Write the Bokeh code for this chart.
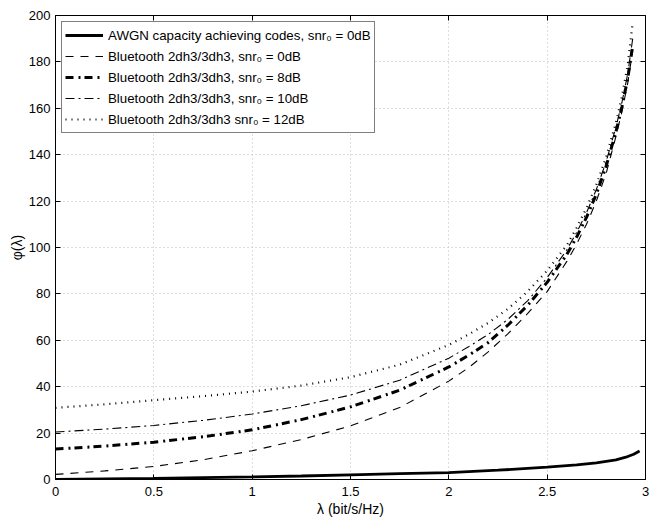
from bokeh.plotting import figure
from bokeh.models import LinearAxis, FixedTicker, Range1d, Legend, LegendItem
from bokeh.embed import file_html
from bokeh.resources import INLINE

# ---- data ----
x_awgn = [0, 0.25, 0.5, 0.75, 1.0, 1.25, 1.5, 1.75, 2.0, 2.25, 2.5, 2.65, 2.75, 2.85, 2.9, 2.94, 2.97]
y_awgn = [0.0, 0.25, 0.5, 0.8, 1.1, 1.5, 2.0, 2.5, 3.0, 4.0, 5.3, 6.3, 7.2, 8.5, 9.6, 10.9, 12.3]

x_bt = [0, 0.25, 0.5, 0.75, 1.0, 1.25, 1.5, 1.75, 2.0, 2.1, 2.2, 2.3, 2.4, 2.5, 2.6, 2.65,
        2.7, 2.75, 2.8, 2.85, 2.88, 2.91, 2.935]
y_bt_0db = [2.2, 3.7, 5.6, 8.5, 12.4, 17.2, 23.1, 31.0, 42.4, 48.2, 55.0, 62.8, 71.5, 81.0,
            94.0, 101.5, 110.0, 120.0, 132.0, 148.0, 158.5, 171.0, 185.0]
y_bt_8db = [13.1, 14.4, 16.1, 18.4, 21.4, 25.8, 31.3, 38.5, 48.5, 53.5, 59.0, 66.5, 75.0, 85.0,
            97.0, 104.5, 113.0, 123.0, 135.0, 150.0, 160.5, 173.0, 187.0]
y_bt_10db = [20.5, 21.7, 23.3, 25.5, 28.2, 31.8, 36.4, 42.8, 52.3, 57.2, 62.5, 69.0, 77.0, 87.0,
             99.0, 106.5, 115.0, 125.0, 137.0, 152.0, 162.5, 175.0, 190.0]
y_bt_12db = [30.9, 32.4, 34.2, 35.9, 37.9, 40.5, 44.1, 49.5, 58.0, 62.5, 67.5, 73.5, 81.0, 90.0,
             101.0, 108.5, 117.0, 127.0, 139.0, 154.0, 165.0, 179.0, 197.0]

labels = [
    "AWGN capacity achieving codes, snr\u2080 = 0dB",
    "Bluetooth 2dh3/3dh3, snr\u2080 = 0dB",
    "Bluetooth 2dh3/3dh3, snr\u2080 = 8dB",
    "Bluetooth 2dh3/3dh3, snr\u2080 = 10dB",
    "Bluetooth 2dh3/3dh3 snr\u2080 = 12dB",
]

x_ticks = [0, 0.5, 1, 1.5, 2, 2.5, 3]
x_tick_labels = ["0", "0.5", "1", "1.5", "2", "2.5", "3"]
y_ticks = [0, 20, 40, 60, 80, 100, 120, 140, 160, 180, 200]

FONT = "Liberation Sans"

p = figure(width=650, height=520, output_backend="svg", toolbar_location=None,
           x_range=Range1d(0, 3), y_range=Range1d(0, 200),
           min_border_left=55, min_border_top=15, min_border_right=5, min_border_bottom=41)
p.background_fill_color = "white"
p.outline_line_color = "black"
p.outline_line_width = 1

r_awgn = p.line(x_awgn, y_awgn, line_color="black", line_width=2.8)
r0 = p.line(x_bt, y_bt_0db, line_color="black", line_width=1.1, line_dash="8 7")
r8 = p.line(x_bt, y_bt_8db, line_color="black", line_width=3, line_dash="8 5 2 4")
r10 = p.line(x_bt, y_bt_10db, line_color="black", line_width=1.1, line_dash="9 4 2 4")
r12 = p.line(x_bt, y_bt_12db, line_color="black", line_width=2.2, line_dash="1 5")

for ax in (p.xaxis[0], p.yaxis[0]):
    ax.major_tick_in = 5
    ax.major_tick_out = 0
    ax.minor_tick_line_color = None
    ax.axis_line_color = "black"
    ax.major_label_text_font = FONT
    ax.major_label_text_font_size = "13px"
    ax.major_label_text_color = "black"
    ax.axis_label_text_font = FONT
    ax.axis_label_text_font_size = "14px"
    ax.axis_label_text_font_style = "normal"
    ax.axis_label_text_color = "black"

p.xaxis[0].ticker = FixedTicker(ticks=x_ticks)
p.xaxis[0].major_label_overrides = {t: s for t, s in zip(x_ticks, x_tick_labels)}
p.xaxis[0].axis_label = "\u03bb (bit/s/Hz)"
p.xaxis[0].axis_label_standoff = 2
p.xaxis[0].major_label_standoff = 7
p.yaxis[0].ticker = FixedTicker(ticks=y_ticks)
p.yaxis[0].axis_label = "\u03c6(\u03bb)"
p.yaxis[0].axis_label_standoff = 1
p.yaxis[0].major_label_standoff = 5

for side, tk in (("right", y_ticks), ("above", x_ticks)):
    a = LinearAxis(ticker=FixedTicker(ticks=tk))
    a.major_tick_in = 5
    a.major_tick_out = 0
    a.minor_tick_line_color = None
    a.axis_line_color = None
    a.major_label_text_font_size = "1px"
    a.major_label_text_color = None
    a.major_label_standoff = 0
    p.add_layout(a, side)

p.xgrid.ticker = FixedTicker(ticks=x_ticks)
p.ygrid.ticker = FixedTicker(ticks=y_ticks)
for g in (p.xgrid[0], p.ygrid[0]):
    g.grid_line_color = "#bcbcbc"
    g.grid_line_dash = "1 3"
    g.grid_line_width = 1

legend = Legend(items=[LegendItem(label=l, renderers=[r]) for l, r in
                       zip(labels, [r_awgn, r0, r8, r10, r12])],
                location="top_left")
legend.margin = 6
legend.padding = 3
legend.spacing = 1
legend.glyph_width = 38
legend.glyph_height = 20
legend.label_height = 20
legend.label_standoff = 5
legend.label_text_font = FONT
legend.label_text_font_size = "13.3px"
legend.label_text_color = "black"
legend.border_line_color = "black"
legend.border_line_width = 1
legend.background_fill_color = "white"
legend.background_fill_alpha = 1
p.add_layout(legend)

open("out.html", "w").write(file_html(p, INLINE))
